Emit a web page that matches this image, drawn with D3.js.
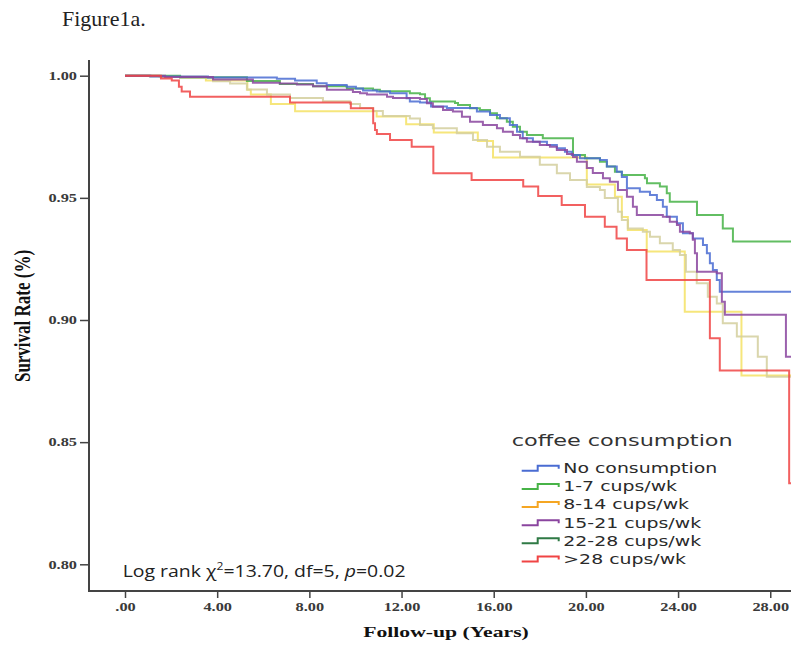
<!DOCTYPE html>
<html>
<head>
<meta charset="utf-8">
<script src="https://cdn.jsdelivr.net/npm/d3@7"></script>
<style>
html, body { margin: 0; padding: 0; background: #fff; }
svg { display: block; }
</style>
</head>
<body>
<div id="chart"></div>
<script>
// Kaplan-Meier steps: [follow-up years, survival] after each drop
const noConsumption = [[0,1],[1.1,.9997],[3.6,.9993],[6.59,.9988],[7.38,.998],[8.32,.9969],[8.75,.9962],[9.62,.9955],[10.02,.9948],[10.33,.9939],[10.93,.9935],[11.5,.9928],[12.22,.9908],[12.36,.9894],[12.8,.989],[13.28,.9874],[13.97,.9868],[15.27,.9853],[15.84,.9839],[16.27,.9826],[16.7,.9798],[17.01,.9771],[17.26,.9744],[17.7,.973],[18.31,.9716],[18.74,.9703],[19.09,.9689],[19.39,.9675],[19.74,.9662],[20.61,.9655],[20.91,.9628],[21.34,.9607],[21.56,.9585],[21.78,.9539],[22.34,.9525],[22.78,.9512],[23.08,.9491],[23.34,.9464],[23.51,.9423],[23.95,.9396],[24.21,.9355],[24.64,.9334],[25.08,.9307],[25.25,.9273],[25.38,.9232],[25.51,.9205],[25.68,.9164],[25.81,.9116]]
const cups1to7 = [[0,1],[2.39,.9994],[5.29,.9978],[6.72,.9966],[8.16,.9957],[9.63,.9948],[10.76,.9943],[11.06,.9936],[12.36,.9928],[12.8,.9924],[13.02,.9908],[13.23,.9894],[14.32,.9888],[14.45,.988],[14.97,.9867],[15.4,.986],[15.84,.9846],[16.14,.9826],[16.57,.9812],[16.83,.9791],[17.14,.9771],[17.44,.9757],[18.13,.9744],[19.44,.9675],[19.96,.9662],[20.61,.9648],[20.91,.9628],[21.26,.9607],[21.56,.9594],[22.56,.958],[22.65,.956],[23.21,.9546],[23.51,.9519],[23.64,.9484],[24.82,.943],[25.94,.9375],[26.38,.9321]]
const cups8to14 = [[0,1],[1.5,.9996],[3.51,.998],[5.31,.9943],[5.46,.9923],[6.33,.9884],[7.38,.9854],[10.92,.9833],[12.2,.9801],[13.4,.9768],[15.31,.9733],[15.97,.9665],[20.04,.9555],[21.26,.9504],[21.56,.9422],[21.82,.9368],[22.64,.928],[24.29,.9034],[26.75,.8773]]
const cups15to21 = [[0,1],[1.74,.9995],[3.82,.9984],[5.55,.9971],[6.72,.9968],[7.46,.9964],[8.16,.9957],[8.76,.9942],[9.89,.9933],[10.2,.9928],[10.5,.9923],[11.37,.9914],[11.63,.9909],[12.8,.9905],[13.1,.9887],[13.36,.9873],[13.8,.986],[14.23,.9853],[14.62,.9832],[14.97,.9812],[15.53,.9798],[16.14,.9785],[16.4,.9771],[16.83,.9757],[17.14,.9744],[17.44,.973],[18,.9716],[18.44,.9709],[18.74,.9696],[19.18,.968],[19.44,.9667],[19.61,.9648],[20.04,.9622],[20.3,.9602],[20.74,.958],[21.04,.9566],[21.39,.9532],[21.78,.9505],[22.04,.9464],[22.21,.943],[23.34,.9423],[23.64,.9402],[23.95,.9389],[24.08,.9361],[24.51,.9355],[24.64,.9328],[24.73,.9273],[24.82,.9198],[25.68,.9191],[25.9,.9075],[26.03,.9021],[28.68,.885]]
const cups22to28 = [[0,1],[1.08,.9997],[2.39,.9991],[3.82,.9977],[4.56,.9968],[5.29,.9944],[6.16,.9923],[7.16,.9909],[8.59,.9895],[9.76,.9884],[10.2,.9868],[10.76,.9856],[11.19,.9835],[12.36,.9825],[12.8,.9798],[13.36,.9785],[14.4,.9764],[15.1,.9737],[15.71,.9709],[16.27,.9689],[17.14,.9668],[18,.9635],[18.74,.9601],[19.31,.9573],[20.04,.9544],[20.61,.9532],[20.82,.9499],[21.39,.9443],[21.56,.9409],[21.82,.9375],[22.47,.9361],[22.78,.9341],[23.21,.9314],[23.77,.9287],[24.08,.9266],[24.34,.9197],[24.81,.915],[25.29,.9095],[25.68,.9068],[25.94,.8987],[26.55,.8932],[27.46,.885],[27.85,.8768]]
const cupsOver28 = [[0,1],[1.56,.9989],[2.03,.998],[2.34,.9955],[2.46,.9935],[2.82,.9914],[7.16,.989],[9.8,.9867],[10.77,.9805],[10.85,.9778],[10.93,.9761],[11.5,.9737],[12.44,.9709],[13.38,.9601],[15.04,.9573],[17.28,.9546],[17.93,.9508],[18.95,.9471],[19.96,.9423],[20.82,.9382],[21.33,.9334],[21.78,.9287],[22.63,.9164],[25.38,.8925],[25.81,.8793],[28.82,.8332]]

const groupLabels = ["No consumption", "1-7 cups/wk", "8-14 cups/wk", "15-21 cups/wk", "22-28 cups/wk", ">28 cups/wk"]
const groupSeries = [noConsumption, cups1to7, cups8to14, cups15to21, cups22to28, cupsOver28]
const lineColors = ["#4a6cd2", "#47b347", "#f4e264", "#8a459f", "#d3cf9d", "#f04444"]
const legendColors = ["#4a6cd2", "#47b347", "#f5a623", "#8a459f", "#2f7a45", "#f04444"]
const drawOrder = [2, 4, 1, 0, 3, 5]

const xTicks = [0, 4, 8, 12, 16, 20, 24, 28]
const yTicks = [0.80, 0.85, 0.90, 0.95, 1.00]
const followUpEnd = 29.6

const width = 791
const height = 648
const serif = "'Liberation Serif', 'Times New Roman', serif"
const sx = 1.36   // the source image is stretched sideways

const svg = d3.select("#chart").append("svg")
  .attr("width", width)
  .attr("height", height)

const x = d3.scaleLinear().domain([0, 28.9]).range([125, 791])
const y = d3.scaleLinear().domain([0.8, 1.0]).range([564.3, 75.7])
const axisLeftX = 89
const axisBottomY = 591

svg.append("text")
  .attr("x", 62).attr("y", 26)
  .attr("font-family", serif)
  .attr("font-size", 22)
  .attr("fill", "#222")
  .text("Figure1a.")

// curves
const line = d3.line()
  .x(d => x(d[0]))
  .y(d => y(d[1]))
  .curve(d3.curveStepAfter)

const curves = svg.append("g")
drawOrder.forEach(i => {
  const pts = groupSeries[i]
  const last = pts[pts.length - 1]
  curves.append("path")
    .datum(pts.concat([[followUpEnd, last[1]]]))
    .attr("d", line)
    .attr("fill", "none")
    .attr("stroke", lineColors[i])
    .attr("stroke-width", 2)
    .attr("stroke-opacity", 0.85)
})

// axes
const fmt = d3.format(".2f")
const yAxis = svg.append("g")
  .attr("transform", "translate(" + axisLeftX + ",0)")
  .call(d3.axisLeft(y).tickValues(yTicks).tickSize(9).tickPadding(3).tickFormat(fmt))
yAxis.select(".domain").remove()
yAxis.selectAll("line").attr("stroke", "#444").attr("stroke-width", 1.5)
yAxis.selectAll("text")
  .attr("font-family", serif).attr("font-size", 12).attr("font-weight", "bold")
  .attr("fill", "#3a3a3a")
  .attr("x", -12 / sx)
  .attr("transform", "scale(" + sx + ",1)")

const xAxis = svg.append("g")
  .attr("transform", "translate(0," + axisBottomY + ")")
  .call(d3.axisBottom(x).tickValues(xTicks).tickSize(7).tickPadding(4)
    .tickFormat(d => fmt(d).replace(/^0\./, ".")))
xAxis.select(".domain").remove()
xAxis.selectAll("line").attr("stroke", "#444").attr("stroke-width", 1.5)
xAxis.selectAll("text")
  .attr("font-family", serif).attr("font-size", 12).attr("font-weight", "bold")
  .attr("fill", "#3a3a3a")
  .attr("transform", "scale(" + sx + ",1)")

svg.append("line")
  .attr("x1", axisLeftX).attr("x2", axisLeftX)
  .attr("y1", 60).attr("y2", axisBottomY + 1)
  .attr("stroke", "#444").attr("stroke-width", 2)
svg.append("line")
  .attr("x1", axisLeftX - 1).attr("x2", width)
  .attr("y1", axisBottomY).attr("y2", axisBottomY)
  .attr("stroke", "#444").attr("stroke-width", 2)

// axis titles
svg.append("text")
  .attr("transform", "translate(446,637) scale(" + 1.4 + ",1)")
  .attr("text-anchor", "middle")
  .attr("font-family", serif).attr("font-size", 15.5).attr("font-weight", "bold")
  .attr("fill", "#111")
  .text("Follow-up (Years)")

svg.append("text")
  .attr("transform", "translate(30,316) rotate(-90) scale(1," + sx + ")")
  .attr("text-anchor", "middle")
  .attr("font-family", serif).attr("font-size", 17).attr("font-weight", "bold")
  .attr("fill", "#111")
  .text("Survival Rate (%)")

// log rank note
const note = svg.append("text")
  .attr("font-family", "'Open Sans', 'Liberation Sans', sans-serif")
  .attr("font-size", 16)
  .attr("fill", "#222")
note.append("tspan").text("Log rank \u03c7")
note.append("tspan").attr("font-size", 10).attr("dy", -7).text("2")
note.append("tspan").attr("dy", 7).text("=13.70, df=5, ")
note.append("tspan").attr("font-style", "italic").text("p")
note.append("tspan").text("=0.02")
const noteW = note.node().getComputedTextLength()
note.attr("transform", "translate(122.7,577) scale(" + (283 / noteW) + ",1)")

// legend
const legendSx = 1.4
const legend = svg.append("g").attr("transform", "translate(511.7,0)")
legend.append("text")
  .attr("transform", "translate(0,446) scale(" + legendSx + ",1)")
  .attr("font-family", "'DejaVu Sans', sans-serif")
  .attr("font-size", 16)
  .attr("fill", "#333")
  .text("coffee consumption")

const rowY = d3.scalePoint().domain(groupLabels).range([468.3, 559])
const glyph = d3.line()
const glyphShape = [[0, 2.5], [16, 2.5], [16, -2.5], [37, -2.5], [37, 0.5]]

const rows = legend.selectAll("g.row")
  .data(groupLabels)
  .join("g")
  .attr("class", "row")
  .attr("transform", d => "translate(10," + rowY(d) + ")")

rows.append("path")
  .attr("d", glyph(glyphShape))
  .attr("fill", "none")
  .attr("stroke", (d, i) => legendColors[i])
  .attr("stroke-width", 2)

rows.append("text")
  .attr("transform", "translate(41.6,4.8) scale(" + legendSx + ",1)")
  .attr("font-family", "'DejaVu Sans', sans-serif")
  .attr("font-size", 13.5)
  .attr("fill", "#2a2a2a")
  .text(d => d)
</script>
</body>
</html>
